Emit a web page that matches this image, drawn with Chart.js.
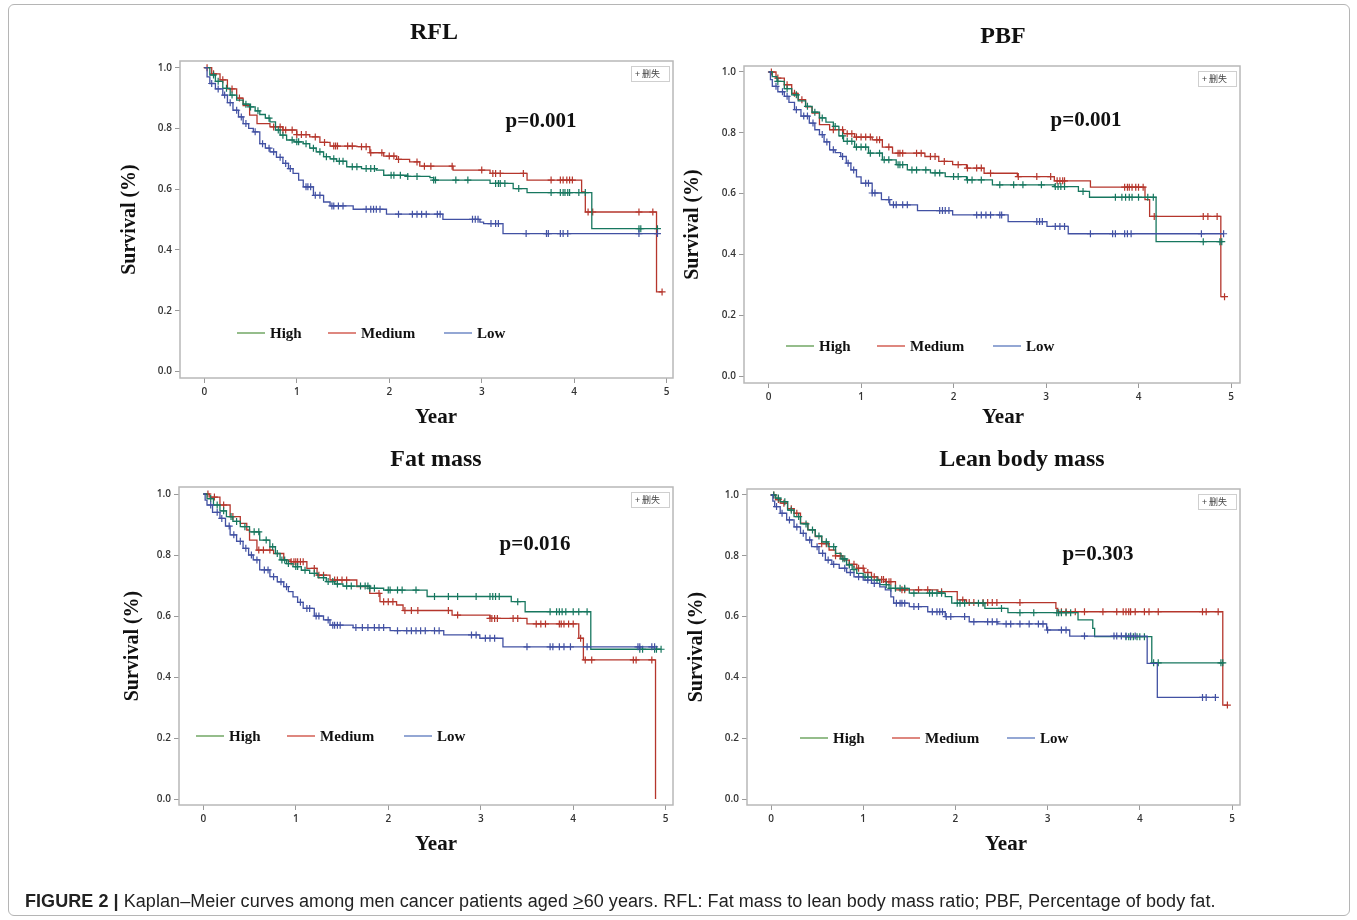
<!DOCTYPE html>
<html>
<head>
<meta charset="utf-8">
<script src="https://cdn.jsdelivr.net/npm/chart.js@4.4.0/dist/chart.umd.min.js"></script>
<style>
  body { margin: 0; background: #fff; width: 1357px; height: 920px; position: relative; overflow: hidden; }
  canvas { position: absolute; left: 0; top: 0; }
  #frame { position: absolute; left: 8px; top: 4px; width: 1340px; height: 910px; border: 1px solid #b5b5b5; border-radius: 6px; }
  #caption { position: absolute; left: 25px; top: 891px; font-family: "Liberation Sans", Arial, sans-serif; font-size: 18px; letter-spacing: 0.06px; color: #222; white-space: nowrap; }
</style>
</head>
<body>
<div id="frame"></div>
<canvas id="c1" width="1357" height="920" style="width:1357px;height:920px"></canvas>
<canvas id="c2" width="1357" height="920" style="width:1357px;height:920px"></canvas>
<canvas id="c3" width="1357" height="920" style="width:1357px;height:920px"></canvas>
<canvas id="c4" width="1357" height="920" style="width:1357px;height:920px"></canvas>
<div id="caption"><b>FIGURE 2 |</b> Kaplan–Meier curves among men cancer patients aged <u>&gt;</u>60 years. RFL: Fat mass to lean body mass ratio; PBF, Percentage of body fat.</div>
<script>
const xTicks = [0, 1, 2, 3, 4, 5];
const yTicks = [0, 0.2, 0.4, 0.6, 0.8, 1.0];
const groups = ["High", "Medium", "Low"];

// RFL
const rflHighTime = [0, 0.06, 0.12, 0.2, 0.28, 0.35, 0.42, 0.49, 0.55, 0.6, 0.66, 0.71, 0.77, 0.82, 0.89, 0.97, 1.07, 1.14, 1.21, 1.29, 1.36, 1.43, 1.54, 1.7, 1.86, 1.94, 2.2, 2.44, 2.48, 3.09, 3.34, 3.49, 4.19];
const rflHighSurv = [1, 0.976, 0.955, 0.932, 0.91, 0.893, 0.88, 0.871, 0.858, 0.846, 0.834, 0.822, 0.795, 0.778, 0.762, 0.756, 0.75, 0.735, 0.723, 0.707, 0.7, 0.692, 0.674, 0.668, 0.663, 0.646, 0.642, 0.638, 0.63, 0.619, 0.602, 0.589, 0.47];
const rflHighCens = [0.1, 0.15, 0.24, 0.3, 0.45, 0.5, 0.58, 0.7, 0.8, 0.85, 0.95, 1.0, 1.02, 1.1, 1.18, 1.25, 1.32, 1.4, 1.46, 1.5, 1.6, 1.65, 1.75, 1.8, 1.84, 2.02, 2.05, 2.12, 2.2, 2.3, 2.48, 2.5, 2.72, 2.85, 3.15, 3.18, 3.2, 3.25, 3.4, 3.75, 3.85, 3.88, 3.9, 3.93, 3.95, 4.05, 4.12, 4.7, 4.72, 4.9];
const rflMedTime = [0, 0.08, 0.17, 0.25, 0.35, 0.42, 0.49, 0.57, 0.71, 0.85, 1.0, 1.14, 1.25, 1.36, 1.65, 1.79, 1.94, 2.08, 2.22, 2.33, 2.69, 3.09, 3.49, 4.08, 4.12, 4.89];
const rflMedSurv = [1, 0.98, 0.96, 0.93, 0.9, 0.875, 0.844, 0.816, 0.805, 0.795, 0.78, 0.772, 0.754, 0.742, 0.74, 0.72, 0.709, 0.698, 0.69, 0.676, 0.663, 0.652, 0.63, 0.591, 0.525, 0.262];
const rflMedCens = [0.03, 0.1, 0.2, 0.3, 0.38, 0.75, 0.82, 0.85, 0.88, 0.95, 1.0, 1.05, 1.1, 1.2, 1.3, 1.4, 1.42, 1.44, 1.55, 1.6, 1.7, 1.75, 1.8, 1.92, 2.0, 2.05, 2.1, 2.3, 2.38, 2.45, 2.68, 3.0, 3.12, 3.15, 3.2, 3.45, 3.75, 3.85, 3.88, 3.92, 3.95, 3.98, 4.15, 4.2, 4.7, 4.85, 4.95];
const rflLowTime = [0, 0.03, 0.06, 0.12, 0.2, 0.25, 0.31, 0.37, 0.42, 0.48, 0.53, 0.6, 0.66, 0.71, 0.78, 0.85, 0.91, 0.96, 1.02, 1.07, 1.18, 1.29, 1.36, 1.61, 1.97, 2.58, 2.98, 3.02, 3.23];
const rflLowSurv = [1, 0.97, 0.948, 0.93, 0.91, 0.885, 0.86, 0.838, 0.816, 0.8, 0.789, 0.75, 0.735, 0.723, 0.705, 0.685, 0.668, 0.652, 0.63, 0.608, 0.58, 0.558, 0.545, 0.534, 0.518, 0.501, 0.492, 0.487, 0.454];
const rflLowCens = [0.08, 0.15, 0.22, 0.28, 0.35, 0.4, 0.45, 0.55, 0.63, 0.7, 0.75, 0.82, 0.88, 0.93, 1.1, 1.12, 1.15, 1.2, 1.25, 1.38, 1.4, 1.45, 1.5, 1.75, 1.8, 1.83, 1.86, 1.9, 2.1, 2.25, 2.3, 2.35, 2.4, 2.52, 2.55, 2.9, 2.93, 2.96, 3.1, 3.15, 3.18, 3.48, 3.7, 3.72, 3.85, 3.88, 3.93, 4.7, 4.9];

// PBF
const pbfHighTime = [0, 0.04, 0.09, 0.17, 0.25, 0.32, 0.4, 0.47, 0.55, 0.62, 0.7, 0.76, 0.81, 0.93, 1.08, 1.23, 1.38, 1.5, 1.75, 1.91, 2.14, 2.42, 3.09, 3.35, 3.47, 4.19];
const pbfHighSurv = [1, 0.985, 0.969, 0.945, 0.925, 0.905, 0.887, 0.868, 0.849, 0.835, 0.821, 0.79, 0.772, 0.753, 0.733, 0.711, 0.695, 0.678, 0.668, 0.656, 0.645, 0.629, 0.623, 0.607, 0.588, 0.442];
const pbfHighCens = [0.1, 0.2, 0.3, 0.42, 0.5, 0.58, 0.72, 0.8, 0.85, 0.9, 0.95, 1.0, 1.05, 1.1, 1.2, 1.25, 1.3, 1.4, 1.42, 1.45, 1.55, 1.6, 1.7, 1.8, 1.85, 2.0, 2.05, 2.15, 2.2, 2.3, 2.5, 2.65, 2.75, 2.95, 3.1, 3.13, 3.16, 3.2, 3.4, 3.75, 3.82, 3.86, 3.9, 3.93, 4.0, 4.1, 4.16, 4.7, 4.88, 4.9];
const pbfMedTime = [0, 0.08, 0.17, 0.25, 0.32, 0.4, 0.47, 0.55, 0.66, 0.81, 0.93, 1.12, 1.23, 1.34, 1.69, 1.84, 1.99, 2.14, 2.33, 2.69, 3.09, 3.48, 4.07, 4.12, 4.89];
const pbfMedSurv = [1, 0.98, 0.958, 0.93, 0.909, 0.885, 0.865, 0.827, 0.81, 0.797, 0.786, 0.777, 0.753, 0.733, 0.722, 0.706, 0.695, 0.684, 0.667, 0.656, 0.642, 0.621, 0.58, 0.525, 0.261];
const pbfMedCens = [0.03, 0.1, 0.2, 0.28, 0.36, 0.7, 0.8, 0.85, 0.9, 0.95, 1.0, 1.05, 1.1, 1.17, 1.2, 1.3, 1.4, 1.42, 1.45, 1.6, 1.65, 1.75, 1.8, 1.9, 2.05, 2.15, 2.25, 2.3, 2.4, 2.7, 2.9, 3.05, 3.12, 3.15, 3.18, 3.2, 3.85, 3.88, 3.9, 3.93, 3.97, 4.0, 4.05, 4.17, 4.7, 4.75, 4.85, 4.93];
const pbfLowTime = [0, 0.02, 0.04, 0.1, 0.17, 0.22, 0.28, 0.35, 0.44, 0.5, 0.55, 0.6, 0.66, 0.72, 0.78, 0.84, 0.89, 0.95, 1.0, 1.12, 1.22, 1.31, 1.61, 1.99, 2.59, 3.01, 3.24];
const pbfLowSurv = [1, 0.975, 0.953, 0.935, 0.92, 0.9, 0.876, 0.855, 0.832, 0.81, 0.794, 0.77, 0.744, 0.735, 0.722, 0.7, 0.678, 0.655, 0.634, 0.602, 0.58, 0.563, 0.544, 0.53, 0.508, 0.492, 0.468];
const pbfLowCens = [0.08, 0.15, 0.2, 0.3, 0.38, 0.42, 0.48, 0.58, 0.63, 0.7, 0.8, 0.86, 0.92, 1.05, 1.08, 1.12, 1.15, 1.3, 1.35, 1.38, 1.45, 1.5, 1.85, 1.88, 1.91, 1.95, 2.25, 2.3, 2.35, 2.4, 2.5, 2.52, 2.9, 2.93, 2.96, 3.1, 3.15, 3.2, 3.48, 3.72, 3.75, 3.85, 3.88, 3.92, 4.68, 4.92];

// Fat mass
const fatHighTime = [0, 0.04, 0.11, 0.18, 0.25, 0.32, 0.4, 0.5, 0.61, 0.72, 0.78, 0.83, 0.9, 0.97, 1.06, 1.15, 1.24, 1.33, 1.42, 1.51, 1.8, 1.95, 2.42, 3.33, 3.48, 4.19];
const fatHighSurv = [1, 0.985, 0.964, 0.945, 0.926, 0.91, 0.893, 0.876, 0.849, 0.827, 0.805, 0.784, 0.772, 0.762, 0.75, 0.74, 0.726, 0.713, 0.705, 0.698, 0.691, 0.685, 0.664, 0.647, 0.614, 0.491];
const fatHighCens = [0.08, 0.15, 0.22, 0.3, 0.36, 0.45, 0.55, 0.6, 0.68, 0.75, 0.8, 0.85, 0.88, 0.92, 1.0, 1.02, 1.1, 1.2, 1.3, 1.35, 1.4, 1.45, 1.55, 1.6, 1.7, 1.75, 1.78, 1.8, 1.85, 2.0, 2.02, 2.1, 2.15, 2.3, 2.5, 2.65, 2.75, 2.95, 3.1, 3.13, 3.16, 3.2, 3.4, 3.75, 3.82, 3.85, 3.88, 3.92, 4.0, 4.06, 4.15, 4.72, 4.75, 4.88, 4.9, 4.95];
const fatMedTime = [0, 0.07, 0.18, 0.29, 0.4, 0.47, 0.5, 0.58, 0.76, 0.87, 0.94, 1.12, 1.23, 1.37, 1.66, 1.8, 1.91, 2.09, 2.16, 2.69, 3.1, 3.5, 4.06, 4.11, 4.89];
const fatMedSurv = [1, 0.99, 0.964, 0.926, 0.904, 0.882, 0.849, 0.816, 0.805, 0.784, 0.778, 0.756, 0.734, 0.718, 0.696, 0.674, 0.647, 0.636, 0.618, 0.603, 0.592, 0.574, 0.527, 0.456, 0];
const fatMedCens = [0.05, 0.12, 0.22, 0.32, 0.6, 0.65, 0.72, 0.95, 0.98, 1.0, 1.02, 1.05, 1.08, 1.2, 1.25, 1.3, 1.42, 1.45, 1.5, 1.55, 1.9, 1.95, 2.0, 2.05, 2.18, 2.25, 2.32, 2.65, 2.75, 3.1, 3.12, 3.15, 3.18, 3.35, 3.4, 3.6, 3.65, 3.7, 3.85, 3.87, 3.9, 3.95, 4.0, 4.08, 4.13, 4.2, 4.65, 4.68, 4.85];
const fatLowTime = [0, 0.02, 0.04, 0.1, 0.18, 0.24, 0.29, 0.36, 0.43, 0.49, 0.54, 0.61, 0.72, 0.8, 0.87, 0.92, 0.97, 1.02, 1.08, 1.2, 1.3, 1.37, 1.62, 2.02, 2.6, 2.99, 3.24];
const fatLowSurv = [1, 0.98, 0.964, 0.94, 0.92, 0.895, 0.866, 0.845, 0.822, 0.8, 0.784, 0.751, 0.729, 0.712, 0.696, 0.68, 0.663, 0.645, 0.625, 0.6, 0.587, 0.57, 0.562, 0.552, 0.538, 0.527, 0.499];
const fatLowCens = [0.08, 0.15, 0.2, 0.28, 0.33, 0.4, 0.46, 0.52, 0.58, 0.66, 0.7, 0.76, 0.84, 0.9, 1.05, 1.12, 1.15, 1.22, 1.25, 1.35, 1.4, 1.42, 1.45, 1.48, 1.65, 1.72, 1.78, 1.85, 1.9, 1.95, 2.1, 2.2, 2.25, 2.3, 2.35, 2.4, 2.5, 2.55, 2.9, 2.95, 3.05, 3.1, 3.15, 3.5, 3.75, 3.78, 3.85, 3.9, 3.97, 4.15, 4.7, 4.72, 4.85, 4.88];

// Lean body mass
const leanHighTime = [0, 0.05, 0.1, 0.18, 0.25, 0.32, 0.4, 0.48, 0.55, 0.62, 0.7, 0.76, 0.82, 0.88, 0.93, 1.0, 1.09, 1.18, 1.28, 1.5, 1.89, 1.96, 2.32, 2.57, 3.33, 3.49, 3.51, 4.13];
const leanHighSurv = [1, 0.99, 0.978, 0.95, 0.929, 0.905, 0.885, 0.865, 0.846, 0.83, 0.808, 0.79, 0.77, 0.755, 0.742, 0.73, 0.72, 0.705, 0.693, 0.677, 0.666, 0.644, 0.627, 0.613, 0.589, 0.561, 0.534, 0.448];
const leanHighCens = [0.03, 0.08, 0.15, 0.22, 0.3, 0.38, 0.45, 0.52, 0.6, 0.68, 0.78, 0.8, 0.85, 0.9, 1.02, 1.05, 1.15, 1.25, 1.3, 1.35, 1.4, 1.45, 1.55, 1.72, 1.75, 1.8, 1.85, 2.02, 2.05, 2.1, 2.25, 2.3, 2.5, 2.7, 2.85, 3.1, 3.12, 3.15, 3.2, 3.25, 3.85, 3.88, 3.9, 3.93, 3.97, 4.0, 4.05, 4.15, 4.2, 4.88, 4.9];
const leanMedTime = [0, 0.05, 0.1, 0.18, 0.25, 0.32, 0.4, 0.48, 0.55, 0.63, 0.7, 0.78, 0.85, 0.93, 1.01, 1.09, 1.16, 1.24, 1.35, 1.81, 2.02, 2.12, 3.09, 3.11, 4.9];
const leanMedSurv = [1, 0.985, 0.973, 0.955, 0.94, 0.907, 0.885, 0.863, 0.84, 0.819, 0.8, 0.786, 0.772, 0.759, 0.745, 0.731, 0.722, 0.715, 0.688, 0.682, 0.655, 0.646, 0.627, 0.616, 0.309];
const leanMedCens = [0.03, 0.08, 0.14, 0.22, 0.28, 0.55, 0.6, 0.7, 0.75, 0.85, 0.9, 0.95, 1.0, 1.05, 1.12, 1.2, 1.22, 1.25, 1.28, 1.3, 1.42, 1.45, 1.6, 1.7, 1.85, 2.08, 2.15, 2.2, 2.3, 2.35, 2.4, 2.45, 2.7, 3.15, 3.2, 3.3, 3.4, 3.6, 3.75, 3.82, 3.85, 3.88, 3.9, 3.95, 4.05, 4.1, 4.2, 4.68, 4.72, 4.85, 4.95];
const leanLowTime = [0, 0.02, 0.04, 0.1, 0.17, 0.25, 0.32, 0.38, 0.44, 0.52, 0.59, 0.66, 0.74, 0.82, 0.9, 1.0, 1.09, 1.18, 1.24, 1.3, 1.33, 1.5, 1.7, 1.89, 2.15, 2.46, 2.99, 3.24, 4.08, 4.19];
const leanLowSurv = [1, 0.98, 0.962, 0.94, 0.918, 0.895, 0.874, 0.852, 0.83, 0.808, 0.786, 0.772, 0.759, 0.745, 0.731, 0.72, 0.709, 0.698, 0.688, 0.665, 0.644, 0.633, 0.616, 0.6, 0.583, 0.576, 0.556, 0.536, 0.446, 0.334];
const leanLowCens = [0.06, 0.12, 0.2, 0.28, 0.35, 0.42, 0.5, 0.56, 0.62, 0.68, 0.8, 0.86, 0.95, 1.05, 1.12, 1.36, 1.4, 1.42, 1.45, 1.55, 1.6, 1.75, 1.8, 1.83, 1.86, 1.9, 1.95, 2.1, 2.2, 2.35, 2.4, 2.45, 2.55, 2.6, 2.7, 2.8, 2.9, 2.95, 3.0, 3.15, 3.2, 3.4, 3.72, 3.75, 3.8, 3.85, 3.9, 3.95, 4.68, 4.72, 4.82];

const curveColors = { High: "#17775f", Medium: "#b5362c", Low: "#4251a3" };
const keyColors = { High: "#5b9a4c", Medium: "#cc463a", Low: "#5a78bd" };

const panels = [
  { id: "c1", title: "RFL", p: "p=0.001", series: [[rflHighTime, rflHighSurv, rflHighCens], [rflMedTime, rflMedSurv, rflMedCens], [rflLowTime, rflLowSurv, rflLowCens]],
    box: { l: 180, t: 61, r: 673, b: 378 }, x0: 204.3, x5: 666.7, y1: 67.7, y0: 371.5,
    titlePos: [434, 33], pPos: [541, 122], legendY: 333, legendX: [237, 328, 444], yTitleX: 130, xTitlePos: [436, 418] },
  { id: "c2", title: "PBF", p: "p=0.001", series: [[pbfHighTime, pbfHighSurv, pbfHighCens], [pbfMedTime, pbfMedSurv, pbfMedCens], [pbfLowTime, pbfLowSurv, pbfLowCens]],
    box: { l: 744, t: 66, r: 1240, b: 383 }, x0: 768.6, x5: 1231, y1: 72, y0: 376,
    titlePos: [1003, 37], pPos: [1086, 121], legendY: 346, legendX: [786, 877, 993], yTitleX: 693, xTitlePos: [1003, 418] },
  { id: "c3", title: "Fat mass", p: "p=0.016", series: [[fatHighTime, fatHighSurv, fatHighCens], [fatMedTime, fatMedSurv, fatMedCens], [fatLowTime, fatLowSurv, fatLowCens]],
    box: { l: 179, t: 487, r: 673, b: 805 }, x0: 203.3, x5: 665.7, y1: 494, y0: 799,
    titlePos: [436, 460], pPos: [535, 545], legendY: 736, legendX: [196, 287, 404], yTitleX: 133, xTitlePos: [436, 845] },
  { id: "c4", title: "Lean body mass", p: "p=0.303", series: [[leanHighTime, leanHighSurv, leanHighCens], [leanMedTime, leanMedSurv, leanMedCens], [leanLowTime, leanLowSurv, leanLowCens]],
    box: { l: 747, t: 489, r: 1240, b: 805 }, x0: 771, x5: 1232, y1: 495, y0: 799,
    titlePos: [1022, 460], pPos: [1098, 555], legendY: 738, legendX: [800, 892, 1007], yTitleX: 697, xTitlePos: [1006, 845] }
];

function stepPoints(times, surv, cens) {
  const pts = times.map((t, i) => ({ x: t, y: surv[i] }));
  const last = times[times.length - 1];
  const end = Math.max(last, ...cens);
  if (end > last) pts.push({ x: end, y: surv[surv.length - 1] });
  return pts;
}

function survAt(times, surv, t) {
  let s = surv[0];
  for (let i = 0; i < times.length; i++) {
    if (times[i] <= t) s = surv[i];
  }
  return s;
}

const serif = "'Liberation Serif', 'Times New Roman', serif";

function makeDecor(panel) {
  return {
    id: "decor",
    afterDraw(chart) {
      const ctx = chart.ctx;
      const a = chart.chartArea;
      ctx.save();
      // frame
      ctx.strokeStyle = "#b8b8b8";
      ctx.lineWidth = 1.5;
      ctx.strokeRect(a.left, a.top, a.right - a.left, a.bottom - a.top);
      ctx.fillStyle = "#111";
      ctx.textAlign = "center";
      ctx.textBaseline = "middle";
      ctx.font = "bold 24px " + serif;
      ctx.fillText(panel.title, panel.titlePos[0], panel.titlePos[1]);
      ctx.font = "bold 21px " + serif;
      ctx.fillText(panel.p, panel.pPos[0], panel.pPos[1]);
      ctx.fillText("Year", panel.xTitlePos[0], panel.xTitlePos[1]);
      ctx.save();
      ctx.translate(panel.yTitleX, (a.top + a.bottom) / 2);
      ctx.rotate(-Math.PI / 2);
      ctx.font = "bold 20px " + serif;
      ctx.fillText("Survival (%)", 0, 0);
      ctx.restore();
      // legend
      ctx.font = "bold 15px " + serif;
      ctx.textAlign = "left";
      groups.forEach((g, i) => {
        const x = panel.legendX[i];
        ctx.strokeStyle = keyColors[g];
        ctx.lineWidth = 1.3;
        ctx.beginPath();
        ctx.moveTo(x, panel.legendY);
        ctx.lineTo(x + 28, panel.legendY);
        ctx.stroke();
        ctx.fillStyle = "#111";
        ctx.fillText(g, x + 33, panel.legendY + 1);
      });
      // censor key box
      const bx = a.right - 42, by = a.top + 5;
      ctx.fillStyle = "#fff";
      ctx.fillRect(bx, by, 38, 15);
      ctx.strokeStyle = "#cfcfcf";
      ctx.lineWidth = 1;
      ctx.strokeRect(bx + 0.5, by + 0.5, 38, 15);
      ctx.fillStyle = "#444";
      ctx.font = "9px 'Noto Sans CJK SC', 'Noto Sans', sans-serif";
      ctx.fillText("+ 删失", bx + 4, by + 8);
      ctx.restore();
    }
  };
}

panels.forEach((panel) => {
  const unitX = (panel.x5 - panel.x0) / 5;
  const unitY = panel.y0 - panel.y1;
  const xMin = -(panel.x0 - panel.box.l) / unitX;
  const xMax = 5 + (panel.box.r - panel.x5) / unitX;
  const yMax = 1 + (panel.y1 - panel.box.t) / unitY;
  const yMin = -(panel.box.b - panel.y0) / unitY;
  const yAxisW = 40, xAxisH = 30;

  const datasets = [];
  const drawOrder = [2, 0, 1];
  drawOrder.forEach((gi) => {
    const g = groups[gi];
    const [times, surv, cens] = panel.series[gi];
    datasets.push({
      type: "line",
      label: g,
      data: stepPoints(times, surv, cens),
      borderColor: curveColors[g],
      borderWidth: 1.3,
      pointRadius: 0,
      stepped: "before",
      fill: false
    });
    datasets.push({
      type: "scatter",
      label: g + " censored",
      data: cens.map((c) => ({ x: c, y: survAt(times, surv, c) })),
      pointStyle: "cross",
      pointRadius: 3.5,
      borderColor: curveColors[g],
      backgroundColor: curveColors[g],
      borderWidth: 1.2
    });
  });

  new Chart(document.getElementById(panel.id), {
    type: "line",
    data: { datasets },
    options: {
      responsive: false,
      animation: false,
      layout: {
        padding: {
          left: panel.box.l - yAxisW,
          top: panel.box.t,
          right: 1357 - panel.box.r,
          bottom: 920 - panel.box.b - xAxisH
        }
      },
      plugins: { legend: { display: false }, tooltip: { enabled: false } },
      scales: {
        x: {
          type: "linear",
          min: xMin,
          max: xMax,
          afterFit: (s) => { s.height = xAxisH; },
          afterBuildTicks: (s) => { s.ticks = xTicks.map((v) => ({ value: v })); },
          grid: { drawOnChartArea: false, color: "#999", tickLength: 5 },
          border: { display: false },
          ticks: { color: "#333", padding: 3, font: { family: "'Open Sans', sans-serif", size: 10, weight: "600" }, callback: (v) => String(v) }
        },
        y: {
          type: "linear",
          min: yMin,
          max: yMax,
          afterFit: (s) => { s.width = yAxisW; },
          afterBuildTicks: (s) => { s.ticks = yTicks.map((v) => ({ value: v })); },
          grid: { drawOnChartArea: false, color: "#999", tickLength: 5 },
          border: { display: false },
          ticks: { color: "#333", padding: 3, font: { family: "'Open Sans', sans-serif", size: 10, weight: "600" }, callback: (v) => v.toFixed(1) }
        }
      }
    },
    plugins: [makeDecor(panel)]
  });
});
</script>
</body>
</html>
